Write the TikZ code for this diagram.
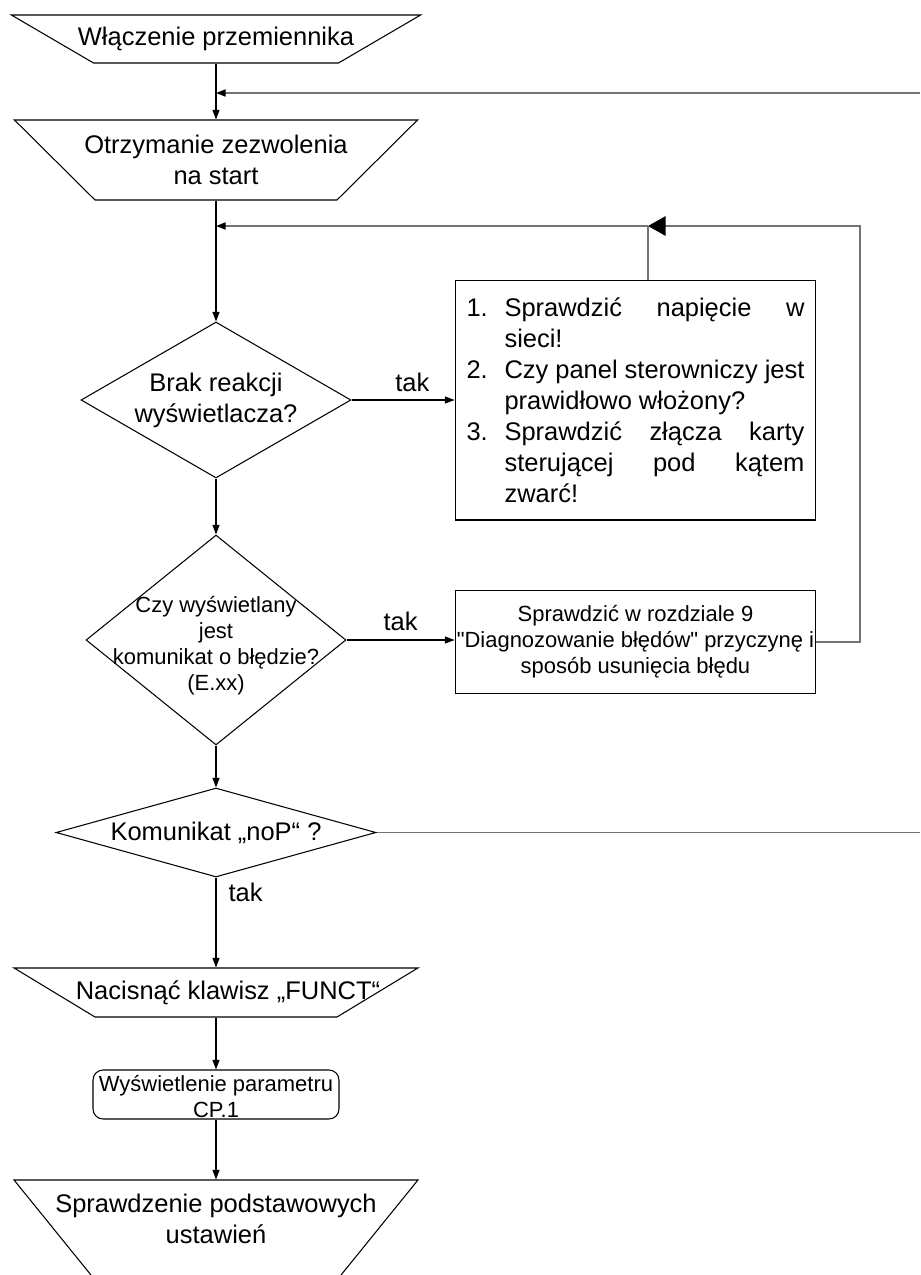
\documentclass[tikz,border=0pt]{standalone}
\usepackage{fontspec}
\setmainfont{Liberation Sans}[Ligatures=TeXOff]
\usetikzlibrary{positioning,arrows.meta,shapes.geometric}
\newcommand{\flowfont}{\fontsize{14.5pt}{17.6pt}\selectfont}
\newcommand{\notefont}{\fontsize{12.5pt}{14.8pt}\selectfont}

\begin{document}
\begin{tikzpicture}[x=0.02cm,y=-0.02cm,>={Triangle[length=5.5pt,width=4pt]},
  wire/.style={draw=black,line width=0.6pt},
  flow/.style={wire,->},
  fb/.style={draw=black!55,line width=1pt},
  fbflow/.style={fb,-{Triangle[length=5.5pt,width=4pt,color=black]}},
  io/.style n args={3}{trapezium,shape border rotate=180,wire,trapezium angle=#1,inner xsep=#2,inner ysep=#3},
  decision/.style={diamond,wire,inner sep=0pt,font=\flowfont,align=center},
  textbox/.style={rectangle,wire,minimum width=7.22cm,inner sep=0pt},
  txt/.style={font=\flowfont,align=center,inner sep=0pt},
  smalltxt/.style={font=\notefont,align=center,inner sep=0pt},
  tak/.style={font=\flowfont,inner sep=0pt}]
\useasboundingbox (0,0) rectangle (920,1275);
\clip (0,0) rectangle (920,1275);

\node[io={30.3}{2.45cm}{0.48cm}] (t1) at (216,39) {};
\node[txt] (t1txt) at (t1) {Włączenie przemiennika};
\node[io={44.8}{2.42cm}{0.8cm}] (t2) at (216,160) {};
\node[txt] (t2txt) at (t2) {Otrzymanie zezwolenia\\na start};
\node[decision,aspect=1.73,minimum width=5.4cm,minimum height=3.12cm] (d1) at (216,400) {Brak reakcji\\wyświetlacza?};
\node[textbox,minimum height=4.8cm,text width=6.76cm,font=\flowfont,align=justify] (b1) at (635.5,400) {%
\noindent\hangindent=0.76cm\hangafter=1\makebox[0.76cm][l]{1.}Sprawdzić napięcie w\linebreak sieci!\par
\noindent\hangindent=0.76cm\hangafter=1\makebox[0.76cm][l]{2.}Czy panel sterowniczy jest\linebreak prawidłowo włożony?\par
\noindent\hangindent=0.76cm\hangafter=1\makebox[0.76cm][l]{3.}Sprawdzić złącza karty\linebreak sterującej pod kątem\linebreak zwarć!\par};
\node[decision,aspect=1.24,minimum width=5.2cm,minimum height=4.2cm] (d2) at (216,640) {};
\node[smalltxt] (d2txt) at (216,646) {Czy wyświetlany\\jest\\komunikat o błędzie?\\(E.xx)};
\node[textbox,minimum height=2.06cm,font=\notefont,align=center] (b2) at (635.5,642) {Sprawdzić w rozdziale 9\\"Diagnozowanie błędów" przyczynę i\\sposób usunięcia błędu};
\node[decision,aspect=3.6,minimum width=6.4cm,minimum height=1.78cm] (d3) at (216,832.5) {Komunikat „noP“ ?};
\node[io={31.2}{2.42cm}{0.49cm}] (t3) at (216,992.5) {};
\node[txt] (t3txt) at (228,992.5) {Nacisnąć klawisz „FUNCT“};
\node[wire,rectangle,rounded corners=0.2cm,minimum width=4.92cm,minimum height=0.98cm] (cp) at (216,1094.5) {};
\node[smalltxt] (cptxt) at (216,1097) {Wyświetlenie parametru\\CP.1};
\node[io={51}{2.42cm}{1cm}] (t4) at (216,1230) {};
\node[txt] (t4txt) at (216,1219) {Sprawdzenie podstawowych\\ustawień};

% main column
\draw[flow] (t1) -- (t2);
\draw[flow] (t2) -- (d1);
\draw[flow] (d1) -- (d2);
\draw[flow] (d2) -- (d3);
\draw[flow] (d3) -- node[tak,pos=0.17,right=0.24cm]{tak} (t3);
\draw[flow] (t3) -- (cp);
\draw[flow] (cp) -- (t4);

% yes branches
\draw[flow] (d1) -- node[tak,pos=0.59,above=0.16cm]{tak} (b1);
\draw[flow] (d2.east) -- node[tak,above=0.18cm]{tak} (d2.east -| b2.west);

% loops back
\coordinate (in1) at (920,93);
\coordinate (j1) at (648,226);
\coordinate (r2) at (860,226);
\coordinate (out1) at (920,832.5);
\draw[fbflow] (in1) -- (in1 -| t1);
\draw[fb,-{Triangle[length=10pt,width=11pt,color=black]}] (b2.east) -| (r2) -- (j1);
\draw[fb] (b1.north -| j1) -- (j1);
\draw[fbflow] (j1) -- (j1 -| t2);
\draw[fb] (d3) -- (out1);
\end{tikzpicture}
\end{document}
